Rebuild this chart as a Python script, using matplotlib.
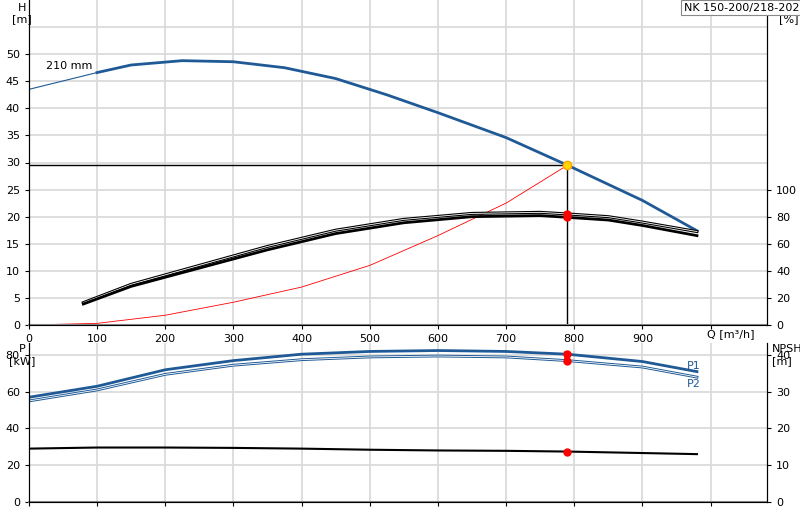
import numpy as np
import matplotlib.pyplot as plt

# pump curves, Q in m3/h
q_h = [0, 100, 150, 225, 300, 375, 450, 525, 600, 700, 790, 900, 980]
head = [43.5, 46.6, 48.0, 48.8, 48.6, 47.5, 45.5, 42.5, 39.2, 34.6, 29.5, 23.0, 17.4]

q_eta = [80, 150, 250, 350, 450, 550, 650, 750, 790, 850, 900, 980]
eta1 = [16.5, 30, 44, 58, 70, 78, 82.4, 83.2, 82, 80, 76, 69]
eta2 = [15.5, 28.5, 42, 55.5, 67.5, 75.5, 80, 80.8, 79.5, 77.5, 73.5, 66]

q_sys = [0, 100, 200, 300, 400, 500, 600, 700, 790]
h_sys = [0, 0.3, 1.8, 4.2, 7.0, 11.0, 16.5, 22.5, 29.5]

q_p = [0, 100, 200, 300, 400, 500, 600, 700, 790, 900, 980]
p1 = [57, 63, 72, 77, 80.5, 82, 82.5, 82, 80.5, 76.5, 71]
p2 = [55, 61, 69.5, 74.5, 77.5, 79, 79.5, 79, 77, 73.5, 68]
npsh = [14.5, 14.8, 14.8, 14.7, 14.5, 14.2, 14.0, 13.9, 13.7, 13.3, 13.0]

q_op, h_op = 790, 29.5

blue = '#1f5a96'
fig = plt.figure(figsize=(8, 5.2), dpi=100)
ax = fig.add_axes([0.036, 0.375, 0.923, 0.625])
ax2 = ax.twinx()
bx = fig.add_axes([0.036, 0.035, 0.923, 0.305])
bx2 = bx.twinx()

for a in (ax, bx):
    a.set_xlim(0, 1083)
    a.set_xticks(range(0, 1100, 100))
    a.grid(True, color='#d8d8d8', lw=1.2)
    a.set_axisbelow(True)
    a.tick_params(labelsize=8, length=3)
    a.spines['top'].set_visible(False)
    a.spines['bottom'].set_color('#888888')
    a.spines['bottom'].set_linewidth(1.5)
for a in (ax2, bx2):
    a.tick_params(labelsize=8, length=3)
    a.spines['top'].set_visible(False)

ax.set_ylim(0, 60)
ax.set_yticks(range(0, 55, 5))
ax.yaxis.set_minor_locator(plt.FixedLocator([55]))
ax.tick_params(which='minor', length=0)
ax.grid(True, which='minor', axis='y', color='#d8d8d8', lw=1.2)
ax.set_xticklabels([str(v) for v in range(0, 1000, 100)] + [''])
ax2.set_ylim(0, 240)
ax2.set_yticks(range(0, 120, 20))
ax.text(-10, 59.5, 'H\n[m]', ha='center', va='top', fontsize=8)
ax.text(1100, 59.5, 'eta\n[%]', ha='left', va='top', fontsize=8)
ax.text(1065, -0.7, 'Q [m³/h]', ha='right', va='top', fontsize=8)

ax.plot(q_h[:2], head[:2], color=blue, lw=0.8)
ax.plot(q_h[1:], head[1:], color=blue, lw=2)
ax.text(25, 47.3, '210 mm', fontsize=8)
ax2.plot(q_eta, eta1, color='black', lw=2.2)
ax2.plot(q_eta, eta1, color='white', lw=0.6)
ax2.plot(q_eta, eta2, color='black', lw=2)
ax.plot(q_sys, h_sys, color='red', lw=0.6)
ax.plot([0, q_op], [h_op, h_op], color='black', lw=1)
ax.plot([q_op, q_op], [0, h_op], color='black', lw=1)
ax.plot(q_op, h_op, 'o', ms=6, mfc='#ffd700', mec='orange', zorder=5)
ax2.plot([q_op, q_op], [eta1[8], eta2[8]], color='red', lw=4, zorder=5)
ax2.plot([q_op, q_op], [eta1[8], eta2[8]], 'o', color='red', ms=5, zorder=5)
fig.text(0.999, 0.995, 'NK 150-200/218-202', ha='right', va='top',
         fontsize=8, bbox=dict(fc='white', ec='#888888', lw=0.8, pad=2))

bx.set_ylim(0, 86.5)
bx.set_yticks(range(0, 81, 20))
bx.set_xticklabels([])
bx2.set_ylim(0, 43.25)
bx2.set_yticks(range(0, 41, 10))
bx.text(-10, 86, 'P\n[kW]', ha='center', va='top', fontsize=8)
bx.text(1090, 86, 'NPSH\n[m]', ha='left', va='top', fontsize=8)
bx.plot(q_p, p1, color=blue, lw=2)
bx.plot(q_p, p2, color=blue, lw=2)
bx.plot(q_p, p2, color='white', lw=0.6)
bx2.plot(q_p, npsh, color='black', lw=1.5)
bx.plot([q_op, q_op], [p1[8], p2[8]], color='red', lw=4)
bx.plot([q_op, q_op], [p1[8], p2[8]], 'o', color='red', ms=5)
bx2.plot(q_op, npsh[8], 'o', color='red', ms=5)
bx.text(965, 72.5, 'P1', fontsize=8, color=blue)
bx.text(965, 62.5, 'P2', fontsize=8, color=blue)

fig.savefig('out.png', dpi=100)
